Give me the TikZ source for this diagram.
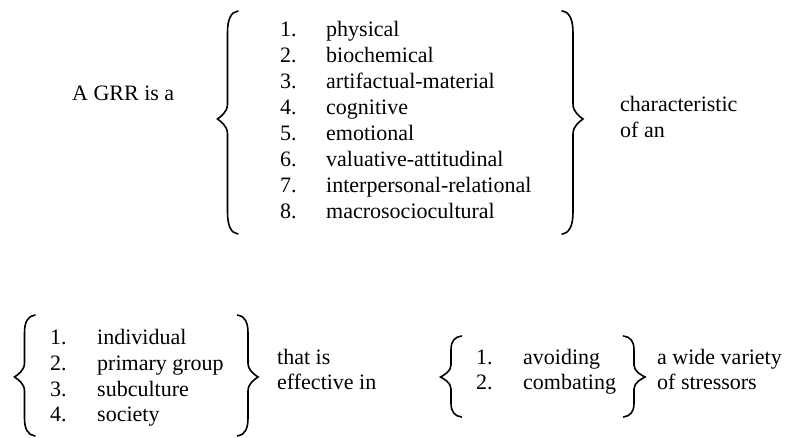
\documentclass[tikz,border=0pt]{standalone}
\usepackage{fontspec}
\setmainfont{Liberation Serif}
\tikzset{
  txt/.style={anchor=base west, inner sep=0pt, font=\fontsize{22}{26}\selectfont},
  brc/.style={draw=black, line width=1.6pt, line cap=round, line join=miter}
}
% tip x, spine x, end x, top y, mid y, bottom y, end-curve height, tip-curve height
\newcommand{\grbrace}[8]{%
  \path[brc] (#3,#4) .. controls ({#2+0.35*(#3-#2)},{#4+1}) and (#2,{#4+0.35*#7}) .. (#2,{#4+#7})
    -- (#2,{#5-#8}) .. controls (#2,{#5-0.45*#8}) and ({#1+0.3*(#2-#1)},{#5-0.15*#8}) .. (#1,#5)
    .. controls ({#1+0.3*(#2-#1)},{#5+0.15*#8}) and (#2,{#5+0.45*#8}) .. (#2,{#5+#8})
    -- (#2,{#6-#7}) .. controls (#2,{#6-0.35*#7}) and ({#2+0.35*(#3-#2)},{#6-1}) .. (#3,#6);%
}
\begin{document}
\begin{tikzpicture}[x=1pt,y=-1pt]
\useasboundingbox (0,0) rectangle (809,438);
% top row
\node[txt] (grr) at (72,101) {A GRR is a};
\grbrace{217.5}{227.5}{238}{11}{119}{234}{22}{15}
\foreach \i/\t in {1/physical,2/biochemical,3/artifactual-material,4/cognitive,5/emotional,6/valuative-attitudinal,7/interpersonal-relational,8/macrosociocultural}{
  \node[txt] (tn\i) at (280,{37+25.9*(\i-1)}) {\i.};
  \node[txt] (tt\i) at (326,{37+25.9*(\i-1)}) {\t};
}
\grbrace{583}{573}{562}{11}{119}{234}{22}{15}
\node[txt] (char) at (620,112) {characteristic};
\node[txt] (ofan) at (620,138) {of an};
% bottom row
\grbrace{14.5}{24.5}{35}{315}{377}{436}{18}{14}
\foreach \i/\t in {1/individual,2/primary group,3/subculture,4/society}{
  \node[txt] (bn\i) at (50,{345+25.6*(\i-1)}) {\i.};
  \node[txt] (bt\i) at (97,{345+25.6*(\i-1)}) {\t};
}
\grbrace{258}{248}{237.5}{315}{377}{436}{18}{14}
\node[txt] (thatis) at (277,365) {that is};
\node[txt] (effin) at (277,390) {effective in};
\grbrace{440.5}{451}{461.5}{336}{377}{417}{14}{12}
\node[txt] (sn1) at (476,365) {1.};
\node[txt] (st1) at (523,365) {avoiding};
\node[txt] (sn2) at (476,390) {2.};
\node[txt] (st2) at (523,390) {combating};
\grbrace{645}{634}{623.5}{336}{377}{417}{14}{12}
\node[txt] (wide) at (657,365) {a wide variety};
\node[txt] (stress) at (657,390) {of stressors};
\end{tikzpicture}
\end{document}
